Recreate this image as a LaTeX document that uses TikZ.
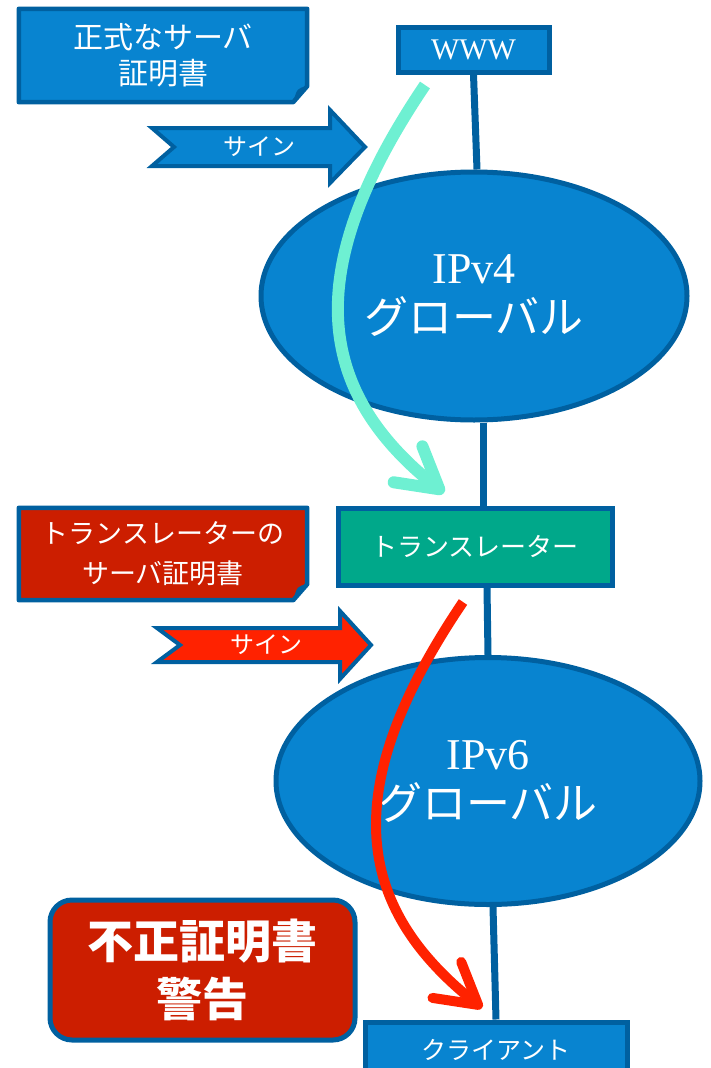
\documentclass[tikz,border=0pt]{standalone}
\usepackage{fontspec}
\setmainfont{Liberation Serif}
\newfontfamily\jp{Noto Sans CJK JP}
\usetikzlibrary{positioning,shapes.geometric,arrows.meta,backgrounds}

\definecolor{boxblue}{RGB}{8,132,208}
\definecolor{edgeblue}{RGB}{0,96,160}
\definecolor{certred}{RGB}{204,30,0}
\definecolor{signred}{RGB}{255,34,0}
\definecolor{transteal}{RGB}{0,168,138}
\definecolor{flowaqua}{RGB}{110,240,210}

\tikzset{
  box/.style={draw=edgeblue, line width=5pt, fill=boxblue, text=white, inner sep=0pt, align=center},
  netcloud/.style={ellipse, draw=edgeblue, line width=5pt, fill=boxblue, text=white, inner sep=0pt,
    align=center, font=\fontsize{44}{50}\selectfont},
  notebox/.style={text=white, inner sep=0pt, align=center, minimum width=288pt, minimum height=93pt},
  link/.style={draw=edgeblue, line width=7pt},
  flow/.style={line width=12pt, -{Straight Barb[length=40pt,width=46pt,round]}},
  signtext/.style={text=white, font=\jp\fontsize{24}{26}\selectfont, inner sep=0pt},
}

\begin{document}
\begin{tikzpicture}[x=1pt,y=-1pt]
    \useasboundingbox (0,0) rectangle (710,1068);
    \clip (0,0) rectangle (710,1068);

    % servers and networks
    \node[box, minimum width=151pt, minimum height=45pt, font=\fontsize{30}{32}\selectfont] (www) at (473.5,49.5) {WWW};
    \node[netcloud, minimum width=426pt, minimum height=248pt] (ipv4) at (474,296) {IPv4\\{\jp グローバル}};
    \node[box, fill=transteal, minimum width=274pt, minimum height=77pt,
      font=\jp\fontsize{26}{28}\selectfont] (trans) at (475,546.5) {トランスレーター};
    \node[netcloud, minimum width=424pt, minimum height=247pt] (ipv6) at (488,781) {IPv6\\{\jp グローバル}};
    \node[box, minimum width=262pt, minimum height=56pt, font=\jp\fontsize{25}{27}\selectfont] (client) at (496,1050) {クライアント};

    % certificates
    \node[notebox, font=\jp\fontsize{30}{36}\selectfont] (cert) at (163,55.5) {正式なサーバ\\証明書};
    \node[notebox, minimum height=92pt, font=\jp\fontsize{27}{40}\selectfont] (tcert) at (163,554) {トランスレーターの\\サーバ証明書};
    \node[box, fill=certred, line width=5pt, rounded corners=22pt, minimum width=305pt, minimum height=140pt,
      font=\jp\bfseries\fontsize{46}{58}\selectfont] (warn) at (202.5,970) {不正証明書\\警告};

    \begin{scope}[on background layer]
      % vertical links
      \draw[link] (www.south) -- ([xshift=3pt]ipv4.north);
      \draw[link] ([xshift=9pt]ipv4.south) -- ([xshift=8pt]trans.north);
      \draw[link] ([xshift=12pt]trans.south) -- (ipv6.north);
      \draw[link] ([xshift=5pt]ipv6.south) -- (client.north);
      % note shapes with folded corner
      \filldraw[fill=boxblue, draw=edgeblue, line width=4.5pt, line join=round]
        (cert.north west) -- (cert.north east) -- ([yshift=16pt]cert.south east)
        -- ([xshift=-14pt]cert.south east) -- (cert.south west) -- cycle;
      \filldraw[fill=certred, draw=edgeblue, line width=4.5pt, line join=round]
        (tcert.north west) -- (tcert.north east) -- ([yshift=16pt]tcert.south east)
        -- ([xshift=-14pt]tcert.south east) -- (tcert.south west) -- cycle;
    \end{scope}
    \fill[edgeblue] ([yshift=16pt]cert.south east) .. controls ([xshift=-10pt,yshift=14pt]cert.south east) .. ([xshift=-14pt]cert.south east) -- cycle;
    \fill[edgeblue] ([yshift=16pt]tcert.south east) .. controls ([xshift=-10pt,yshift=14pt]tcert.south east) .. ([xshift=-14pt]tcert.south east) -- cycle;

    % sign arrows
    \filldraw[fill=boxblue, draw=edgeblue, line width=4pt, line join=miter]
      (152,128) -- (330,128) -- (330,110) -- (365,147) -- (330,183) -- (330,166) -- (152,166) -- (174,147) -- cycle;
    \node[signtext] (sign1) at (259,147) {サイン};
    \filldraw[fill=signred, draw=edgeblue, line width=4pt, line join=miter]
      (157,628) -- (340,628) -- (340,611) -- (371,645) -- (340,679) -- (340,662) -- (157,662) -- (180,645) -- cycle;
    \node[signtext] (sign2) at (266,645) {サイン};

    % certificate flow
    \draw[flow, flowaqua] (425,85) .. controls (300,270) and (315,390) .. (444,493);
    \draw[flow, signred, line width=10pt] (463,602) .. controls (338,787) and (353,905) .. (482,1008);
\end{tikzpicture}
\end{document}
